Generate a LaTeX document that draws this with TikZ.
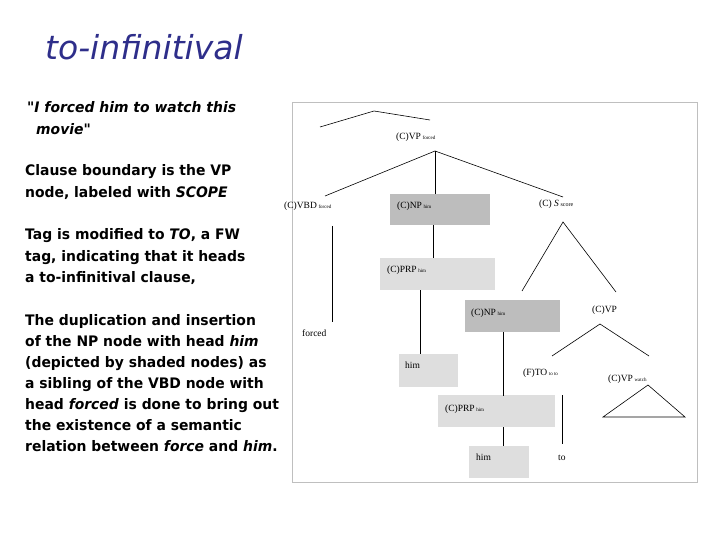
\documentclass[tikz,border=0pt]{standalone}
\usepackage{fontspec}
\setmainfont{Liberation Serif}
\newfontfamily\sidefont{DejaVu Sans}[FakeStretch=0.96]
\newfontfamily\titlefont{DejaVu Sans}
\definecolor{titleblue}{HTML}{2E2E8A}
\definecolor{dk}{HTML}{BDBDBD}
\definecolor{lt}{HTML}{DEDEDE}
\begin{document}
\begin{tikzpicture}[x=1pt,y=-1pt,
  side/.style={anchor=base west,inner sep=0,font=\sidefont\bfseries\fontsize{14.5}{17}\selectfont},
  lab/.style={anchor=base west,inner sep=0,font=\fontsize{9.5}{10}\selectfont},
  dkbox/.style={fill=dk,draw=none},
  ltbox/.style={fill=lt,draw=none},
  ln/.style={line width=0.6pt}]
\useasboundingbox (0,0) rectangle (720,540);
\node[anchor=base west,inner sep=0,text=titleblue,font=\titlefont\itshape\fontsize{33}{36}\selectfont] (title) at (45,60) {to-infinitival};
\node[side] (q1) at (27,113) {\itshape "I forced him to watch this};
\node[side] (q2) at (36,135) {\itshape movie"};
\node[side] (c1) at (25,176) {Clause boundary is the VP};
\node[side] (c2) at (25,197) {node, labeled with \itshape SCOPE};
\node[side] (t1) at (25,240) {Tag is modified to \textit{TO}, a FW};
\node[side] (t2) at (25,261) {tag, indicating that it heads};
\node[side] (t3) at (25,282) {a to-infinitival clause,};
\node[side] (d1) at (25,325) {The duplication and insertion};
\node[side] (d2) at (25,346) {of the NP node with head \textit{him}};
\node[side] (d3) at (25,367) {(depicted by shaded nodes) as};
\node[side] (d4) at (25,388) {a sibling of the VBD node with};
\node[side] (d5) at (25,409) {head \textit{forced} is done to bring out};
\node[side] (d6) at (25,430) {the existence of a semantic};
\node[side] (d7) at (25,451) {relation between \textit{force} and \textit{him}.};
% frame
\draw[draw=black!25,line width=0.8pt] (292,102) rectangle (697,482);
% boxes
\fill[dkbox] (390,194) rectangle (490,225);
\fill[ltbox] (380,258) rectangle (495,290);
\fill[ltbox] (399,354) rectangle (458,387);
\fill[dkbox] (465,300) rectangle (560,332);
\fill[ltbox] (438,395) rectangle (555,427);
\fill[ltbox] (469,446) rectangle (529,478);
% labels
\node[lab] (vp) at (396,140) {(C)VP\,{\fontsize{5}{5}\selectfont forced}};
\node[lab] (vbd) at (284,209) {(C)VBD\,{\fontsize{5}{5}\selectfont forced}};
\node[lab] (np) at (397,209) {(C)NP\,{\fontsize{5}{5}\selectfont him}};
\node[lab] (s) at (539,207) {(C) \textit{S}\,{\fontsize{6}{6}\selectfont score}};
\node[lab] (prp) at (387,272) {(C)PRP\,{\fontsize{5}{5}\selectfont him}};
\node[lab] (forced) at (302,336) {forced};
\node[lab] (him1) at (405,368) {him};
\node[lab] (np2) at (471,315) {(C)NP\,{\fontsize{5}{5}\selectfont him}};
\node[lab] (cvp) at (592,312) {(C)VP};
\node[lab] (to) at (523,375) {(F)TO\,{\fontsize{5}{5}\selectfont to to}};
\node[lab] (vpw) at (608,381) {(C)VP\,{\fontsize{5}{5}\selectfont watch}};
\node[lab] (prp2) at (445,411) {(C)PRP\,{\fontsize{5}{5}\selectfont him}};
\node[lab] (him2) at (476,460) {him};
\node[lab] (tow) at (558,460) {to};
% coordinates
\coordinate (top1) at (320,127); \coordinate (top2) at (374,111); \coordinate (top3) at (430,120);
\coordinate (vpb) at (435,151);
\coordinate (vbdt) at (325,196); \coordinate (npt) at (435,194); \coordinate (st) at (563,197);
\coordinate (vbdb) at (332,226); \coordinate (forcedt) at (332,322);
\coordinate (npb) at (433,225); \coordinate (prpt) at (433,258);
\coordinate (prpb) at (420,290); \coordinate (him1t) at (420,354);
\coordinate (sb) at (563,222); \coordinate (sl) at (522,291); \coordinate (sr) at (616,292);
\coordinate (cvpb) at (600,324); \coordinate (tot) at (552,356); \coordinate (vpwt) at (649,356);
\coordinate (np2b) at (503,332); \coordinate (prp2t) at (503,396);
\coordinate (prp2b) at (503,427); \coordinate (him2t) at (503,446);
\coordinate (tob) at (562,395); \coordinate (towt) at (562,444);
\coordinate (wa) at (648,385); \coordinate (wl) at (603,417); \coordinate (wr) at (685,417);
\draw[ln] (top1) -- (top2) -- (top3);
\draw[ln] (vpb) -- (vbdt);
\draw[ln] (vpb) -- (npt);
\draw[ln] (vpb) -- (st);
\draw[ln] (vbdb) -- (forcedt);
\draw[ln] (npb) -- (prpt);
\draw[ln] (prpb) -- (him1t);
\draw[ln] (sl) -- (sb) -- (sr);
\draw[ln] (tot) -- (cvpb) -- (vpwt);
\draw[ln] (np2b) -- (prp2t);
\draw[ln] (prp2b) -- (him2t);
\draw[ln] (tob) -- (towt);
\draw[ln] (wl) -- (wa) -- (wr) -- cycle;
\end{tikzpicture}
\end{document}
